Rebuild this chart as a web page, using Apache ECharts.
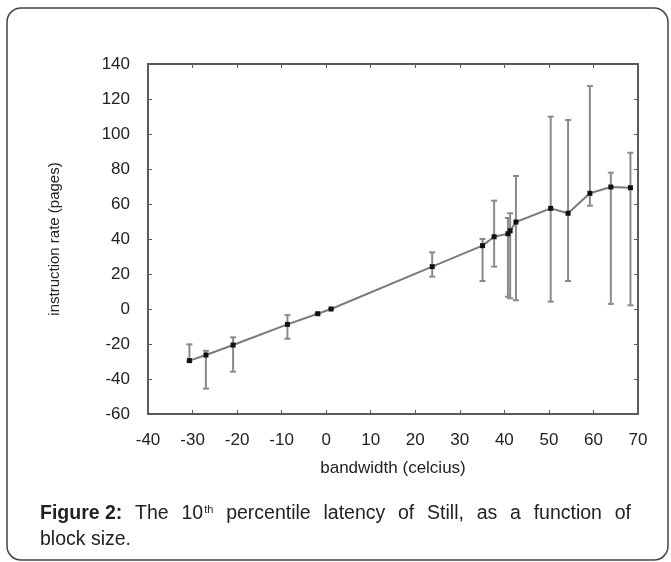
<!DOCTYPE html>
<html>
<head>
<meta charset="utf-8">
<script src="https://cdn.jsdelivr.net/npm/echarts@6/dist/echarts.min.js"></script>
<style>
html,body{margin:0;padding:0;background:#fff;}
#chart{width:671px;height:562px;}
</style>
</head>
<body>
<div id="chart"></div>
<script>
// x: bandwidth (celcius), y: instruction rate (pages)
var xValues = [-30.7, -27.0, -20.9, -8.7, -1.9, 1.1, 23.8, 35.1, 37.7, 40.8, 41.3, 42.6, 50.4, 54.3, 59.2, 63.9, 68.3];
var yValues = [-29.5, -26.3, -20.6, -8.8, -2.7, 0.0, 24.2, 36.2, 41.3, 43.0, 44.7, 49.7, 57.5, 54.7, 66.1, 69.7, 69.3];
var yHigh   = [-20.2, -23.9, -16.2, -3.5, -2.7, 0.0, 32.4, 40.0, 61.9, 52.0, 54.7, 76.0, 109.9, 108.0, 127.4, 77.9, 89.3];
var yLow    = [-30.0, -45.5, -35.8, -17.0, -2.7, 0.0, 18.5, 16.0, 24.2, 7.0, 6.1, 5.0, 4.2, 16.0, 59.0, 2.9, 2.1];
var xTicks = [-40, -30, -20, -10, 0, 10, 20, 30, 40, 50, 60, 70];
var yTicks = [-60, -40, -20, 0, 20, 40, 60, 80, 100, 120, 140];

var chart = echarts.init(document.getElementById('chart'), null, {renderer: 'canvas'});

var pointData = xValues.map(function (x, i) { return [x, yValues[i]]; });
var errData = xValues.map(function (x, i) { return [x, yLow[i], yHigh[i]]; });

var axisColor = '#5a5a5a';
var font = 'Liberation Sans, Arial, sans-serif';

// justified caption line 1
var capWords = [
  {t: 'Figure 2:', bold: true}, {t: 'The'}, {t: '10', sup: 'th'}, {t: 'percentile'}, {t: 'latency'},
  {t: 'of'}, {t: 'Still,'}, {t: 'as'}, {t: 'a'}, {t: 'function'}, {t: 'of'}
];
var capFont = 19.5, supFont = 11, capLeft = 40, capRight = 631, capTop = 504;
var mctx = document.createElement('canvas').getContext('2d');
function measure(t, bold, size) {
  mctx.font = (bold ? 'bold ' : '') + size + 'px ' + font;
  return mctx.measureText(t).width;
}
var widths = capWords.map(function (w) {
  return measure(w.t, w.bold, capFont) + (w.sup ? measure(w.sup, false, supFont) + 1 : 0);
});
var totalW = widths.reduce(function (a, b) { return a + b; }, 0);
var gap = (capRight - capLeft - totalW) / (capWords.length - 1);
var capGraphics = [];
var cx = capLeft;
capWords.forEach(function (w, i) {
  capGraphics.push({
    type: 'text', x: cx, y: capTop, silent: true,
    style: {text: w.t, fontFamily: font, fontSize: capFont, fontWeight: w.bold ? 'bold' : 'normal', fill: '#222', textVerticalAlign: 'top'}
  });
  if (w.sup) {
    capGraphics.push({
      type: 'text', x: cx + measure(w.t, false, capFont) + 1, y: capTop, silent: true,
      style: {text: w.sup, fontFamily: font, fontSize: supFont, fill: '#222', textVerticalAlign: 'top'}
    });
  }
  cx += widths[i] + gap;
});
capGraphics.push({
  type: 'text', x: capLeft, y: capTop + 26, silent: true,
  style: {text: 'block size.', fontFamily: font, fontSize: capFont, fill: '#222', textVerticalAlign: 'top'}
});

var option = {
  animation: false,
  backgroundColor: '#fff',
  grid: {left: 148, right: 33, top: 64, bottom: 148, containLabel: false},
  xAxis: [{
    type: 'value', min: xTicks[0], max: xTicks[xTicks.length - 1], interval: 10,
    name: 'bandwidth (celcius)', nameLocation: 'middle', nameGap: 46,
    nameTextStyle: {fontFamily: font, fontSize: 17, color: '#222'},
    axisLine: {show: true, onZero: false, lineStyle: {color: axisColor, width: 2}},
    axisTick: {show: true, inside: true, length: 4, lineStyle: {color: axisColor}},
    axisLabel: {fontFamily: font, fontSize: 17, color: '#222', margin: 18},
    splitLine: {show: false}
  }, {
    type: 'value', position: 'top', min: xTicks[0], max: xTicks[xTicks.length - 1], interval: 10,
    axisLine: {show: true, onZero: false, lineStyle: {color: axisColor, width: 2}},
    axisTick: {show: true, inside: true, length: 4, lineStyle: {color: axisColor}},
    axisLabel: {show: false}, splitLine: {show: false}
  }],
  yAxis: [{
    type: 'value', min: yTicks[0], max: yTicks[yTicks.length - 1], interval: 20,
    name: 'instruction rate (pages)', nameLocation: 'middle', nameGap: 86, nameRotate: 90,
    nameTextStyle: {fontFamily: font, fontSize: 15, color: '#222'},
    axisLine: {show: true, onZero: false, lineStyle: {color: axisColor, width: 2}},
    axisTick: {show: true, inside: true, length: 4, lineStyle: {color: axisColor}},
    axisLabel: {fontFamily: font, fontSize: 17, color: '#222', margin: 18},
    splitLine: {show: false}
  }, {
    type: 'value', position: 'right', min: yTicks[0], max: yTicks[yTicks.length - 1], interval: 20,
    axisLine: {show: true, onZero: false, lineStyle: {color: axisColor, width: 2}},
    axisTick: {show: true, inside: true, length: 4, lineStyle: {color: axisColor}},
    axisLabel: {show: false}, splitLine: {show: false}
  }],
  series: [{
    type: 'custom',
    name: 'error',
    xAxisIndex: 0, yAxisIndex: 0,
    data: errData,
    encode: {x: 0, y: [1, 2]},
    z: 2,
    renderItem: function (params, api) {
      var x = api.value(0);
      var lo = api.coord([x, api.value(1)]);
      var hi = api.coord([x, api.value(2)]);
      var cap = 3;
      var style = {stroke: '#8a8a8a', lineWidth: 2, fill: null};
      return {
        type: 'group',
        children: [
          {type: 'line', shape: {x1: lo[0], y1: lo[1], x2: hi[0], y2: hi[1]}, style: style},
          {type: 'line', shape: {x1: lo[0] - cap, y1: lo[1], x2: lo[0] + cap, y2: lo[1]}, style: style},
          {type: 'line', shape: {x1: hi[0] - cap, y1: hi[1], x2: hi[0] + cap, y2: hi[1]}, style: style}
        ]
      };
    }
  }, {
    type: 'line',
    xAxisIndex: 0, yAxisIndex: 0,
    data: pointData,
    z: 3,
    symbol: 'rect', symbolSize: 5,
    itemStyle: {color: '#111'},
    lineStyle: {color: '#7a7a7a', width: 2}
  }],
  graphic: [{
    type: 'rect',
    shape: {x: 7, y: 8, width: 661, height: 552, r: 14},
    style: {fill: null, stroke: '#444', lineWidth: 1.5},
    silent: true
  }].concat(capGraphics)
};
chart.setOption(option);
</script>
</body>
</html>
